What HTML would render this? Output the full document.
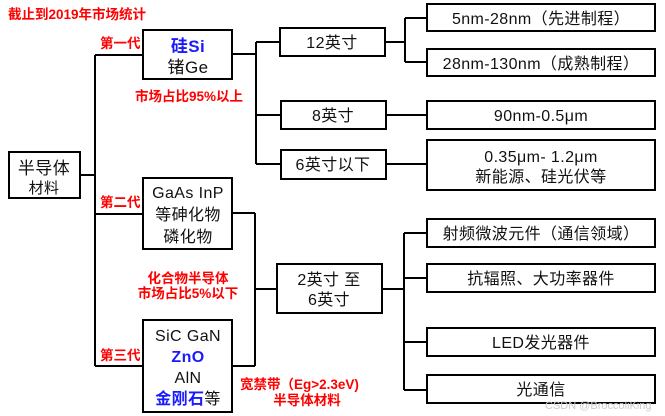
<!DOCTYPE html>
<html><head><meta charset="utf-8"><style>
html,body{margin:0;padding:0;background:#fff;}
svg{display:block;}
text{font-family:"Liberation Sans","Noto Sans CJK SC",sans-serif;}
.b{font-size:16px;fill:#111;letter-spacing:0.4px;}
.r{font-size:13.5px;fill:#ff0000;font-weight:bold;}
.bl{fill:#1a1aff;font-weight:bold;}
</style></head><body>
<svg width="665" height="416" viewBox="0 0 665 416" xmlns="http://www.w3.org/2000/svg">
<g fill="none" stroke="#000" stroke-width="2">
<rect x="9" y="152" width="71" height="46"/>
<rect x="143" y="30" width="89" height="49"/>
<rect x="143" y="178" width="89" height="71"/>
<rect x="143" y="320" width="89" height="92"/>
<rect x="280" y="28" width="105" height="28"/>
<rect x="281" y="101" width="105" height="28"/>
<rect x="281" y="150" width="105" height="29"/>
<rect x="427" y="4" width="228" height="27"/>
<rect x="427" y="49" width="228" height="27"/>
<rect x="427" y="101" width="228" height="28"/>
<rect x="427" y="140" width="228" height="50"/>
<rect x="277" y="264" width="105" height="49"/>
<rect x="427" y="219" width="228" height="28"/>
<rect x="427" y="264" width="228" height="28"/>
<rect x="427" y="328" width="228" height="28"/>
<rect x="427" y="375" width="228" height="28"/>
<path d="M80 175H95M95 55V366M95 55H143M95 214H143M95 366H143"/>
<path d="M232 54H256M256 42V164M256 42H280M256 115H281M256 164H281"/>
<path d="M385 42H405M405 18V62M405 18H427M405 62H427M386 115H427M386 164H427"/>
<path d="M232 213H255M255 213V366M232 366H255M255 289H277"/>
<path d="M382 289H404M404 233V390M404 233H427M404 278H427M404 342H427M404 390H427"/>
</g>
<text x="8" y="19" class="r" font-size="14">截止到2019年市场统计</text>
<text x="100" y="48" class="r">第一代</text>
<text x="100" y="207" class="r">第二代</text>
<text x="100" y="360" class="r">第三代</text>
<text x="189" y="101" class="r" text-anchor="middle">市场占比95%以上</text>
<text x="188" y="283" class="r" text-anchor="middle">化合物半导体</text>
<text x="188" y="298" class="r" text-anchor="middle">市场占比5%以下</text>
<text x="240" y="389" class="r">宽禁带（Eg&gt;2.3eV)</text>
<text x="307" y="405" class="r" text-anchor="middle">半导体材料</text>
<g class="b" text-anchor="middle">
<text x="44" y="174" font-size="17">半导体</text>
<text x="44" y="193" font-size="15">材料</text>
<text x="188" y="52" class="bl" font-size="17">硅Si</text>
<text x="188" y="73" font-size="17">锗Ge</text>
<text x="188" y="198">GaAs InP</text>
<text x="188" y="220">等砷化物</text>
<text x="188" y="242">磷化物</text>
<text x="188" y="341">SiC GaN</text>
<text x="188" y="362" class="bl">ZnO</text>
<text x="188" y="383">AlN</text>
<text x="188" y="404"><tspan class="bl" font-weight="normal">金刚石</tspan>等</text>
<text x="332" y="48">12英寸</text>
<text x="333" y="121">8英寸</text>
<text x="333" y="170">6英寸以下</text>
<text x="541" y="24">5nm-28nm（先进制程）</text>
<text x="541" y="69">28nm-130nm（成熟制程）</text>
<text x="541" y="121">90nm-0.5μm</text>
<text x="541" y="162">0.35μm- 1.2μm</text>
<text x="541" y="182">新能源、硅光伏等</text>
<text x="329" y="285">2英寸 至</text>
<text x="329" y="305">6英寸</text>
<text x="541" y="239">射频微波元件（通信领域）</text>
<text x="541" y="284">抗辐照、大功率器件</text>
<text x="541" y="348">LED发光器件</text>
<text x="541" y="395">光通信</text>
</g>
<text x="545" y="409" font-size="11" fill="#ccc">CSDN @BroccoliKing</text>
</svg>
</body></html>
